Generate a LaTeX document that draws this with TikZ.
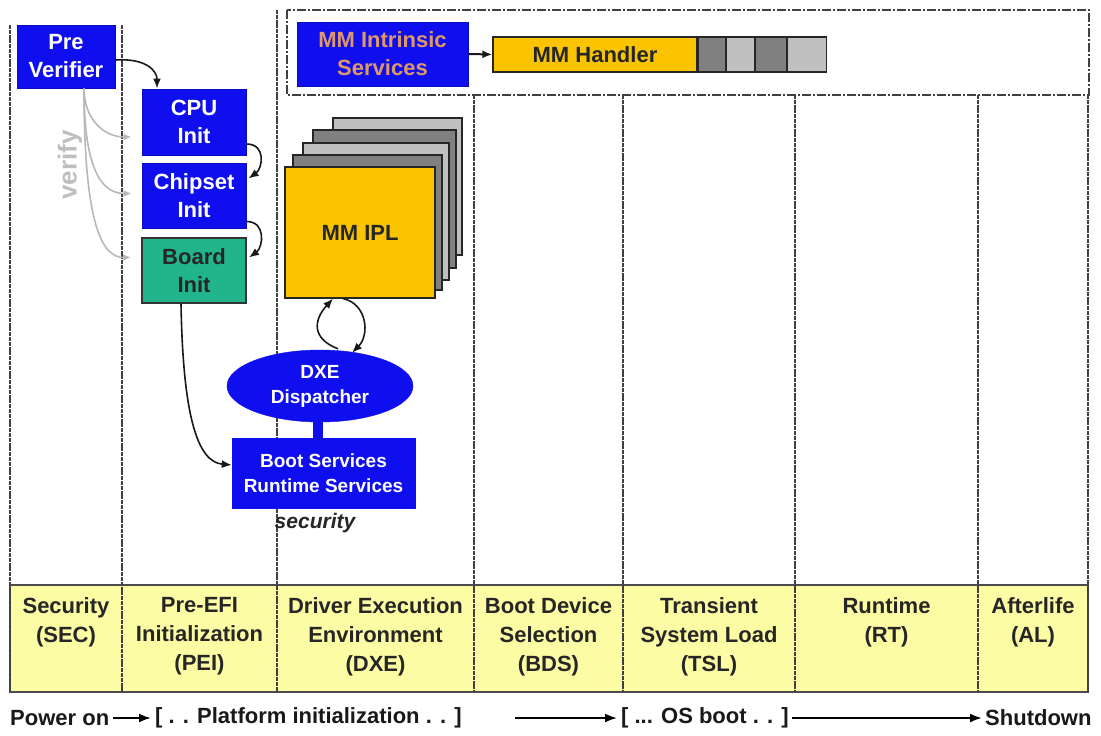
\documentclass[tikz,border=0pt]{standalone}
\usepackage{fontspec}
\setmainfont{Liberation Sans}
\usetikzlibrary{arrows.meta,shapes.geometric,calc}
\definecolor{ublue}{RGB}{14,14,238}
\definecolor{uyellow}{RGB}{250,196,0}
\definecolor{band}{RGB}{252,252,164}
\definecolor{ugreen}{RGB}{34,180,138}
\definecolor{otxt}{RGB}{222,152,104}
\definecolor{dgray}{RGB}{128,128,128}
\definecolor{lgray}{RGB}{192,192,192}
\begin{document}
\begin{tikzpicture}[x=1pt,y=-1pt,
  every node/.style={inner sep=0pt, align=center},
  txt/.style={font=\bfseries\fontsize{22}{28}\selectfont},
  stxt/.style={font=\bfseries\fontsize{19}{25}\selectfont},
  bandtxt/.style={font=\bfseries\fontsize{22}{29}\selectfont, text=black!85, anchor=north},
  bluebox/.style={rectangle, fill=ublue, draw=ublue!80!black, line width=1pt, text=white, txt},
  cell/.style={rectangle, draw=black!85, line width=1.2pt, minimum height=35pt, anchor=west},
  vline/.style={draw=black!75, line width=1.3pt, dash pattern=on 4pt off 0.8pt},
  arr/.style={draw=black!90, line width=1.6pt, -{Latex[length=10pt,width=8pt]}},
  garr/.style={draw=black!28, line width=1.6pt, -{Latex[length=8pt,width=7pt]}},
  barr/.style={draw=black, line width=2pt, -{Latex[length=12pt,width=9pt]}}]
\useasboundingbox (0,0) rectangle (1101,736);
\fill[white] (0,0) rectangle (1101,736);

% bottom band
\draw[fill=band, draw=black!70, line width=1.3pt] (10,585) rectangle (1088,692);

% vertical phase lines
\draw[vline] (10,25) -- (10,692);
\draw[vline] (122,25) -- (122,692);
\draw[vline] (277,10) -- (277,692);
\foreach \x in {474,623,795,978} \draw[vline] (\x,95) -- (\x,692);
\draw[vline] (1088,95) -- (1088,692);

% dashed MM box
\draw[draw=black!75, line width=1.3pt, dash pattern=on 9pt off 2pt on 2pt off 2pt] (287,10) rectangle (1089,95);

% MM intrinsic / handler
\node[bluebox, minimum width=171pt, minimum height=64pt, text=otxt] (mmi) at (382.5,54) {MM Intrinsic\\Services};
\node[rectangle, fill=uyellow, draw=black!85, line width=1.2pt, minimum width=204pt, minimum height=35pt, txt, text=black!85] (mmh) at (595,54.5) {MM Handler};
\node[cell, fill=dgray, minimum width=27pt] (c1) at (mmh.east) {};
\node[cell, fill=lgray, minimum width=28pt] (c2) at (c1.east) {};
\node[cell, fill=dgray, minimum width=31pt] (c3) at (c2.east) {};
\node[cell, fill=lgray, minimum width=39pt] (c4) at (c3.east) {};
\draw[arr, line width=2pt] (mmi.east) -- (mmh.west);

% SEC / PEI boxes
\node[bluebox, minimum width=98pt, minimum height=63pt] (pv) at (66,56.5) {Pre\\Verifier};
\node[bluebox, minimum width=104pt, minimum height=66pt] (cpu) at (194,122) {CPU\\Init};
\node[bluebox, minimum width=104pt, minimum height=65pt] (chip) at (194,195.5) {Chipset\\Init};
\node[rectangle, fill=ugreen, draw=black!80, line width=2pt, minimum width=104pt, minimum height=65pt, txt, text=black!85] (board) at (194,270.5) {Board\\Init};

% verify arrows
\draw[garr] ($(pv.south)+(18,0)$) .. controls +(0,30) and +(-28,0) .. ($(cpu.west)+(-10,15)$);
\draw[garr] ($(pv.south)+(18,0)$) .. controls +(0,85) and +(-28,0) .. ($(chip.west)+(-10,-2)$);
\draw[garr] ($(pv.south)+(18,0)$) .. controls +(0,140) and +(-28,0) .. ($(board.west)+(-10,-13)$);
\node[rotate=90, font=\bfseries\fontsize{26}{30}\selectfont, text=black!25] (verify) at (70,165) {verify};

% PEI chain arrows
\draw[arr] ($(pv.east)+(0,3.5)$) .. controls +(30,-2) and +(0,-18) .. ($(cpu.north)+(-37,0)$);
\draw[arr] ($(cpu.east)+(0,22)$) .. controls +(20,0) and +(14,-10) .. ($(chip.east)+(2,-17)$);
\draw[arr] ($(chip.east)+(0,26)$) .. controls +(20,0) and +(14,-10) .. ($(board.east)+(2,-13)$);

% MM IPL stack
\draw[fill=lgray, draw=black!85, line width=1.2pt] (333,118) rectangle (462,255);
\draw[fill=dgray, draw=black!85, line width=1.2pt] (313,130) rectangle (456,268);
\draw[fill=lgray, draw=black!85, line width=1.2pt] (303,143) rectangle (449,280);
\draw[fill=dgray, draw=black!85, line width=1.2pt] (293,155) rectangle (442,290);
\node[rectangle, fill=uyellow, draw=black!85, line width=1.2pt, minimum width=150pt, minimum height=131pt, txt, text=black!85] (ipl) at (360,232.5) {MM IPL};

% DXE dispatcher and services
\node[ellipse, fill=ublue, draw=ublue, minimum width=186pt, minimum height=72pt, stxt, text=white] (dxe) at (320,386) {DXE\\Dispatcher};
\node[rectangle, fill=ublue, draw=ublue, minimum width=183pt, minimum height=70pt, stxt, text=white] (boot) at (323.5,473) {Boot Services\\Runtime Services};
\draw[ublue, line width=10pt] ($(dxe.south)+(-2,-2)$) -- ($(dxe.south |- boot.north)+(-2,1)$);
\node[font=\bfseries\itshape\fontsize{21}{25}\selectfont, text=black!85] (sec) at (315,523) {security};

% loop arrows
\draw[arr] ($(dxe.north)+(18,-1)$) .. controls +(-26,-10) and +(-20,22) .. ($(ipl.south)+(-27,0)$);
\draw[arr] ($(ipl.south)+(-17,0)$) .. controls +(24,5) and +(18,-18) .. ($(dxe.north)+(32,3)$);

% board -> boot
\draw[arr] ($(board.south)+(-13,0)$) .. controls +(2,110) and +(-35,-3) .. ($(boot.west)+(0,-8)$);

% band texts
\node[bandtxt] (tsec) at (66,597) {Security\\(SEC)};
\node[bandtxt] (tpei) at (199.5,597) {Pre-EFI\\Initialization\\(PEI)};
\node[bandtxt] (tdxe) at (375.5,597) {Driver Execution\\Environment\\(DXE)};
\node[bandtxt] (tbds) at (548.5,597) {Boot Device\\Selection\\(BDS)};
\node[bandtxt] (ttsl) at (709,597) {Transient\\System Load\\(TSL)};
\node[bandtxt] (trt) at (886.5,597) {Runtime\\(RT)};
\node[bandtxt] (tal) at (1033,597) {Afterlife\\(AL)};

% bottom timeline
\node[txt, anchor=west, text=black!90] (pon) at (10,718) {Power on};
\node[txt, anchor=west, text=black!90] (plat) at (155,718) {[ . . Platform initialization . . ]};
\node[txt, anchor=west, text=black!90] (osb) at (621,718) {[ ... OS boot . . ]};
\node[txt, anchor=west, text=black!90] (shut) at (985,718) {Shutdown};
\coordinate (a2) at (515,718);
\draw[barr] ($(pon.east)+(4,0)$) -- ($(plat.west)+(-4,0)$);
\draw[barr] (a2) -- ($(osb.west)+(-4,0)$);
\draw[barr] ($(osb.east)+(3,0)$) -- ($(shut.west)+(-3,0)$);
\end{tikzpicture}
\end{document}
